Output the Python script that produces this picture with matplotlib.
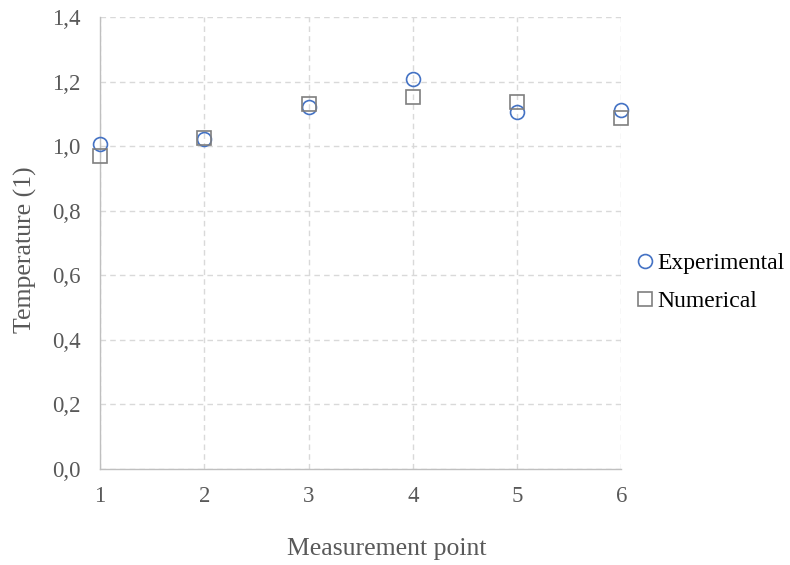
import matplotlib
matplotlib.use("Agg")
import matplotlib.pyplot as plt

points = [1, 2, 3, 4, 5, 6]
experimental = [1.006, 1.023, 1.122, 1.207, 1.105, 1.112]
numerical = [0.970, 1.025, 1.129, 1.153, 1.136, 1.086]
yticks = [0.0, 0.2, 0.4, 0.6, 0.8, 1.0, 1.2, 1.4]

plt.rcParams['font.family'] = ['Liberation Serif', 'DejaVu Serif']

fig = plt.figure(figsize=(7.9, 5.65), dpi=100)
ax = fig.add_axes([0.1266, 0.170, 0.660, 0.800])

ax.plot(points, experimental, linestyle='none', marker='o', markersize=10,
        markerfacecolor='none', markeredgecolor='#4472C4', markeredgewidth=1.2,
        label='Experimental', zorder=3, clip_on=False)
ax.plot(points, numerical, linestyle='none', marker='s', markersize=10,
        markerfacecolor='none', markeredgecolor='#7F7F7F', markeredgewidth=1.2,
        label='Numerical', zorder=3, clip_on=False)

ax.set_xlim(1, 6)
ax.set_ylim(0, 1.4)
ax.set_xticks(points)
ax.set_yticks(yticks)
ax.set_yticklabels([f"{v:.1f}".replace('.', ',') for v in yticks])

ax.grid(True, color='#D9D9D9', linestyle=(0, (4, 3)), linewidth=1.0)
ax.set_axisbelow(True)
for s in ['top', 'right']:
    ax.spines[s].set_visible(False)
for s in ['left', 'bottom']:
    ax.spines[s].set_color('#BFBFBF')
    ax.spines[s].set_linewidth(1.0)
ax.tick_params(length=0, labelsize=16.5, colors='#595959')
ax.tick_params(axis='x', pad=12)
ax.tick_params(axis='y', pad=14)

ax.set_xlabel('Measurement point', fontsize=18.5, color='#595959')
ax.set_ylabel('Temperature (1)', fontsize=18.5, color='#595959')
# Excel centres the titles on the chart area, not the plot area
ax.xaxis.set_label_coords(0.55, -0.152)
ax.yaxis.set_label_coords(-0.120, 0.485)

fig.legend(loc='center left', bbox_to_anchor=(0.781, 0.500), frameon=False,
           fontsize=17, handlelength=0.6, handletextpad=0.2, labelspacing=0.68,
           labelcolor='black')

fig.savefig('out.png', dpi=100)
